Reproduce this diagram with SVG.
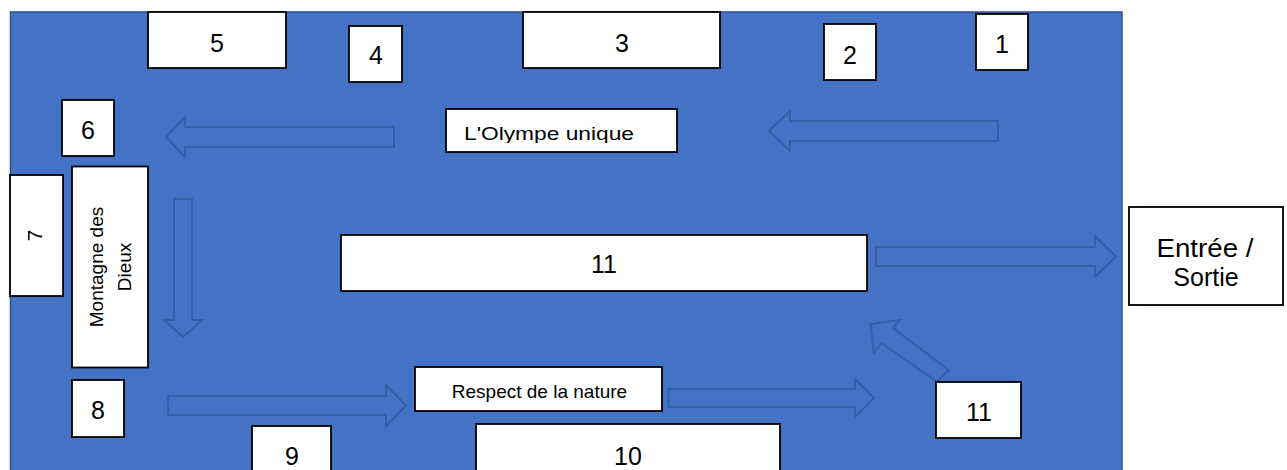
<svg xmlns="http://www.w3.org/2000/svg" width="1287" height="470" viewBox="0 0 1287 470">
<style>
.box{fill:#ffffff;stroke:#000000;stroke-width:1.8}
.arr{fill:#4472C4;stroke:#3560A8;stroke-width:2;stroke-linejoin:miter}
.t{font-family:"Liberation Sans",Arial,sans-serif;fill:#000000;text-anchor:middle}
.d{font-size:25px}
.s{font-size:19px}
</style>
<defs>
<clipPath id="clipOly"><rect x="446" y="109" width="231" height="34"/></clipPath>
</defs>
<rect x="0" y="0" width="1287" height="470" fill="#ffffff"/>
<rect id="background" x="10.5" y="12" width="1111.5" height="470" fill="#4472C4" stroke="#2F528F" stroke-width="1.5"/>
<g id="connectors">
<polygon class="arr" points="166,137 185,117 185,127 394,127 394,147 185,147 185,157"/>
<polygon class="arr" points="769,131 790,111 790,121 998,121 998,141 790,141 790,151"/>
<polygon class="arr" points="174,199 192,199 192,320 202,320 183,337 164,320 174,320"/>
<polygon class="arr" points="168,396 386,396 386,385 406,405.5 386,426 386,415 168,415"/>
<polygon class="arr" points="668.5,389 855,389 855,379 874,398 855,417 855,407 668.5,407"/>
<polygon class="arr" points="876,247 1095,247 1095,236 1116,256.5 1095,277 1095,266 876,266"/>
<polygon class="arr" points="870.5,324 900,320 893,328 948.7,370 937,381.7 881.5,343 874,353"/>
</g>
<g id="n5"><rect class="box" x="148" y="12" width="138" height="56"/><text class="t d" x="217" y="52">5</text></g>
<g id="n4"><rect class="box" x="349" y="26" width="53" height="56"/><text class="t d" x="376" y="64">4</text></g>
<g id="n3"><rect class="box" x="523" y="12" width="197" height="56"/><text class="t d" x="622" y="52">3</text></g>
<g id="n2"><rect class="box" x="824" y="24" width="52" height="56"/><text class="t d" x="850" y="64">2</text></g>
<g id="n1"><rect class="box" x="976" y="14" width="52" height="56"/><text class="t d" x="1002" y="52.5">1</text></g>
<g id="n6"><rect class="box" x="62" y="100" width="52" height="56"/><text class="t d" x="88" y="139">6</text></g>
<g id="olympe"><rect class="box" x="446" y="109" width="231" height="43"/><text class="t s" x="549" y="140" clip-path="url(#clipOly)" textLength="170" lengthAdjust="spacingAndGlyphs">L'Olympe unique</text></g>
<g id="n7"><rect class="box" x="10" y="175" width="53" height="121"/><text class="t" font-size="21" transform="translate(42,235.5) rotate(-90)">7</text></g>
<g id="montagne"><rect class="box" x="72" y="166.5" width="76" height="201"/><text class="t s" transform="translate(103,267) rotate(-90)">Montagne des</text><text class="t s" transform="translate(130.5,267) rotate(-90)">Dieux</text></g>
<g id="n11a"><rect class="box" x="341" y="235" width="526" height="56"/><text class="t d" x="604" y="273">11</text></g>
<g id="entree"><rect class="box" x="1129" y="207" width="154" height="98"/><text class="t" font-size="25" x="1205" y="257" textLength="97" lengthAdjust="spacingAndGlyphs">Entrée /</text><text class="t" font-size="25" x="1206" y="286">Sortie</text></g>
<g id="n8"><rect class="box" x="72" y="380" width="52" height="57"/><text class="t d" x="98" y="419">8</text></g>
<g id="respect"><rect class="box" x="415" y="367" width="247" height="44"/><text class="t s" x="539.5" y="398">Respect de la nature</text></g>
<g id="n11b"><rect class="box" x="936" y="382" width="85" height="56"/><text class="t d" x="979" y="421">11</text></g>
<g id="n9"><rect class="box" x="252" y="426" width="79" height="60"/><text class="t d" x="292" y="465">9</text></g>
<g id="n10"><rect class="box" x="476" y="424" width="304" height="62"/><text class="t d" x="628" y="465">10</text></g>
</svg>
